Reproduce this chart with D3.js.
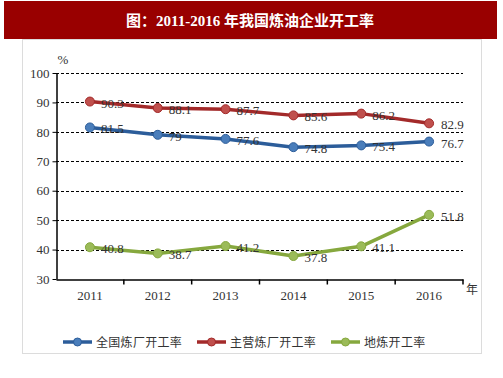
<!DOCTYPE html>
<html lang="zh">
<head>
<meta charset="utf-8">
<title>2011-2016 年我国炼油企业开工率</title>
<script src="https://d3js.org/d3.v7.min.js"></script>
<style>
  body { margin: 0; background: #fff; }
  svg { display: block; }
</style>
</head>
<body>
<svg width="503" height="378"></svg>
<script>
// data
var years = ["2011", "2012", "2013", "2014", "2015", "2016"];
var national = [81.5, 79, 77.6, 74.8, 75.4, 76.7];
var major = [90.3, 88.1, 87.7, 85.6, 86.2, 82.9];
var local = [40.8, 38.7, 41.2, 37.8, 41.1, 51.8];
var yTicks = [30, 40, 50, 60, 70, 80, 90, 100];

var series = [
    { name: "全国炼厂开工率", values: national, line: "#2C5D9A", fill: "#4A7EBB" },
    { name: "主营炼厂开工率", values: major, line: "#A32A2A", fill: "#C0504D" },
    { name: "地炼开工率", values: local, line: "#86A83E", fill: "#9BBB59" }
];

var svg = d3.select("svg");

// title bar
svg.append("rect")
    .attr("x", 4).attr("y", 1)
    .attr("width", 493).attr("height", 38)
    .attr("fill", "#990000");
svg.append("text")
    .attr("x", 250).attr("y", 26)
    .attr("text-anchor", "middle")
    .attr("fill", "#fff")
    .style("font-family", "'Liberation Serif', 'Noto Sans CJK SC', serif")
    .style("font-weight", "bold")
    .style("font-size", "15px")
    .text("图：2011-2016 年我国炼油企业开工率");

// panel border
svg.append("rect")
    .attr("x", 22.5).attr("y", 39.5)
    .attr("width", 459).attr("height", 314)
    .attr("fill", "none")
    .attr("stroke", "#dcdcdc");

// scales
var x = d3.scaleBand().domain(years).range([56, 463]);
var y = d3.scaleLinear().domain([30, 100]).range([279, 73]);

var serif = "'Liberation Serif', 'Times New Roman', serif";

// gridlines
svg.append("g")
    .selectAll("line")
    .data(yTicks.filter(function(d) { return d > 30; }))
    .enter()
    .append("line")
    .attr("x1", 56).attr("x2", 463)
    .attr("y1", function(d) { return Math.round(y(d)) + 0.5; })
    .attr("y2", function(d) { return Math.round(y(d)) + 0.5; })
    .attr("stroke", "#000")
    .attr("stroke-width", 1)
    .style("stroke-dasharray", "3,2");

// y axis
var yAxis = svg.append("g")
    .attr("transform", "translate(56.5,0)")
    .call(d3.axisLeft(y).tickValues(yTicks).tickSize(4).tickSizeOuter(0));
yAxis.select(".domain").attr("stroke", "#000").attr("stroke-width", 1.5);
yAxis.selectAll("text")
    .style("font-family", serif)
    .style("font-size", "13px")
    .attr("fill", "#333");

// x axis
var xAxis = svg.append("g")
    .attr("transform", "translate(0," + (Math.round(y(30)) + 0.5) + ")")
    .call(d3.axisBottom(x).tickSize(0));
xAxis.select(".domain").attr("stroke", "#000").attr("stroke-width", 1.5);
xAxis.selectAll("text")
    .attr("dy", "1.35em")
    .style("font-family", serif)
    .style("font-size", "13px")
    .attr("fill", "#333");
// category separators
xAxis.selectAll(".sep")
    .data(years)
    .enter()
    .append("line")
    .attr("x1", function(d) { return x(d) + x.bandwidth(); })
    .attr("x2", function(d) { return x(d) + x.bandwidth(); })
    .attr("y1", 0).attr("y2", 5)
    .attr("stroke", "#000").attr("stroke-width", 1.5);

// axis units
svg.append("text")
    .attr("x", 63).attr("y", 64)
    .attr("text-anchor", "middle")
    .style("font-family", serif)
    .style("font-size", "13px")
    .attr("fill", "#333")
    .text("%");
svg.append("text")
    .attr("x", 472).attr("y", 294)
    .attr("text-anchor", "middle")
    .style("font-family", "'Noto Sans CJK SC', sans-serif")
    .style("font-size", "12px")
    .attr("fill", "#333")
    .text("年");

var line = d3.line()
    .x(function(d, i) { return x(years[i]) + x.bandwidth() / 2; })
    .y(function(d) { return y(d); });

series.forEach(function(s) {
    var g = svg.append("g");
    g.append("path")
        .datum(s.values)
        .attr("d", line)
        .attr("fill", "none")
        .attr("stroke", s.line)
        .attr("stroke-width", 3.5)
        .attr("stroke-linejoin", "round");
    g.selectAll("circle")
        .data(s.values)
        .enter()
        .append("circle")
        .attr("cx", function(d, i) { return x(years[i]) + x.bandwidth() / 2; })
        .attr("cy", function(d) { return y(d); })
        .attr("r", 4.5)
        .attr("fill", s.fill)
        .attr("stroke", s.line)
        .attr("stroke-width", 1);
    g.selectAll("text")
        .data(s.values)
        .enter()
        .append("text")
        .attr("x", function(d, i) { return x(years[i]) + x.bandwidth() / 2 + (i === 5 ? 12 : 11); })
        .attr("y", function(d) { return y(d) + 6; })
        .style("font-family", serif)
        .style("font-size", "13px")
        .attr("fill", "#333")
        .text(function(d) { return d; });
});

// legend
var legendX = [63, 197, 331];
var legend = svg.append("g")
    .selectAll("g")
    .data(series)
    .enter()
    .append("g")
    .attr("transform", function(d, i) { return "translate(" + legendX[i] + ",342)"; });
legend.append("line")
    .attr("x1", 0).attr("x2", 29)
    .attr("stroke", function(d) { return d.line; })
    .attr("stroke-width", 3.5);
legend.append("circle")
    .attr("cx", 14.5).attr("r", 4)
    .attr("fill", function(d) { return d.fill; })
    .attr("stroke", function(d) { return d.line; });
legend.append("text")
    .attr("x", 33).attr("y", 4.5)
    .style("font-family", "'Noto Sans CJK SC', sans-serif")
    .style("font-size", "12px")
    .style("letter-spacing", "0.3px")
    .attr("fill", "#333")
    .text(function(d) { return d.name; });
</script>
</body>
</html>
